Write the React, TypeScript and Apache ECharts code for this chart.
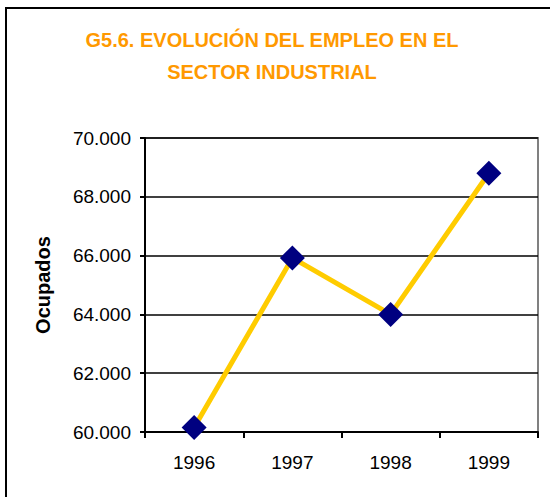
import React, { useEffect, useRef } from "react";
import * as echarts from "echarts";

const categories = ["1996", "1997", "1998", "1999"];
const ocupados = [60150, 65920, 64000, 68800];
const titleText = "G5.6. EVOLUCIÓN DEL EMPLEO EN EL\nSECTOR INDUSTRIAL";
const yAxisName = "Ocupados";

const fmt = (v: number) => {
  const s = Math.round(v).toString();
  return s.replace(/\B(?=(\d{3})+(?!\d))/g, ".");
};

export default function App() {
  const ref = useRef<HTMLDivElement>(null);
  useEffect(() => {
    const chart = echarts.init(ref.current!, null, { renderer: "svg" });
    chart.setOption({
      animation: false,
      backgroundColor: "#ffffff",
      title: {
        text: titleText,
        left: 267,
        top: 19,
        textAlign: "center",
        textStyle: {
          color: "#FF9900",
          fontFamily: "Liberation Sans, Arial, sans-serif",
          fontWeight: "bold",
          fontSize: 20,
          lineHeight: 32,
        },
      },
      graphic: [
        {
          type: "rect",
          shape: { x: 6, y: 8, width: 560, height: 510 },
          style: { fill: "none", stroke: "#000", lineWidth: 2 },
          silent: true,
        },
      ],
      grid: { left: 145, top: 138, right: 12, bottom: 65, show: true, borderColor: "#808080", borderWidth: 2 },
      xAxis: {
        type: "category",
        data: categories,
        boundaryGap: true,
        axisLine: { lineStyle: { color: "#000", width: 2 } },
        axisTick: { show: true, length: 6, lineStyle: { color: "#000", width: 2 } },
        axisLabel: {
          color: "#000",
          fontSize: 19,
          fontFamily: "Liberation Sans, Arial, sans-serif",
          margin: 21,
        },
      },
      yAxis: {
        type: "value",
        min: 60000,
        max: 70000,
        interval: 2000,
        name: yAxisName,
        nameLocation: "middle",
        nameGap: 92,
        nameTextStyle: {
          color: "#000",
          fontWeight: "bold",
          fontSize: 20,
          fontFamily: "Liberation Sans, Arial, sans-serif",
        },
        axisLine: { show: true, lineStyle: { color: "#000", width: 2 } },
        axisTick: { show: true, length: 5, lineStyle: { color: "#000", width: 2 } },
        splitLine: { show: true, lineStyle: { color: "#000", width: 1.5 } },
        axisLabel: {
          color: "#000",
          fontSize: 19,
          fontFamily: "Liberation Sans, Arial, sans-serif",
          margin: 14,
          formatter: (v: number) => fmt(v),
        },
      },
      series: [
        {
          type: "line",
          data: ocupados,
          lineStyle: { color: "#FFCC00", width: 5 },
          symbol: "diamond",
          symbolSize: 25,
          itemStyle: { color: "#000080" },
        },
      ],
    });
    return () => chart.dispose();
  }, []);
  return (
    <div
      ref={ref}
      style={{ position: "fixed", left: 0, top: 0, width: 550, height: 497 }}
    />
  );
}
